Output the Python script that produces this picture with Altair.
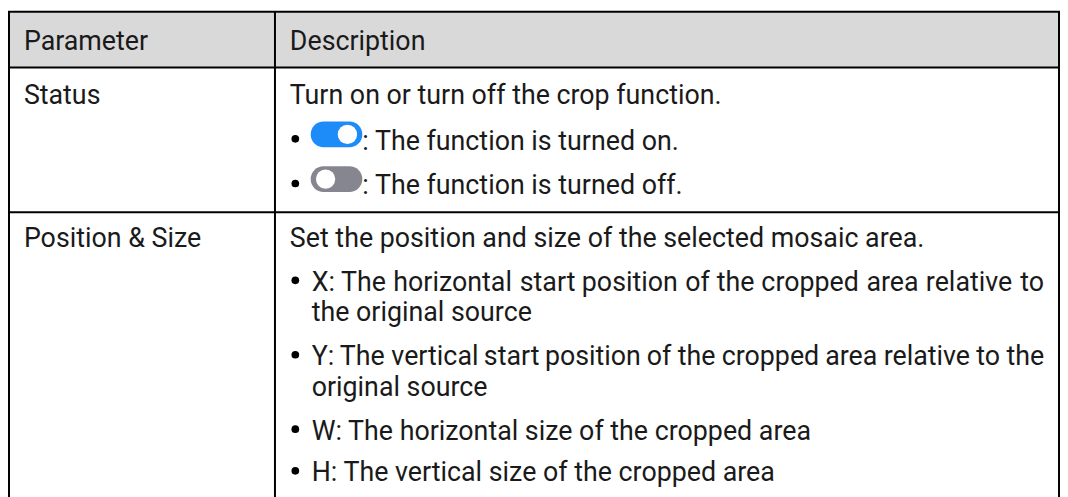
import altair as alt
import pandas as pd

# ---------------- content ----------------
header_cells = ["Parameter", "Description"]
param_names = ["Status", "Position & Size"]
status_lead = "Turn on or turn off the crop function."
status_items = [": The function is turned on.", ": The function is turned off."]
toggle_states = ["on", "off"]
size_lead = "Set the position and size of the selected mosaic area."
size_items = [
    ["X: The horizontal start position of the cropped area relative to", "the original source"],
    ["Y: The vertical start position of the cropped area relative to the", "original source"],
    ["W: The horizontal size of the cropped area"],
    ["H: The vertical size of the cropped area"],
]

# ---------------- layout (page pixels) ----------------
W, H = 1068, 497
M = 8
LEFT, RIGHT, COL = 9, 1067, 277
TOP, HEAD_BOT, ROW1_BOT = 10, 66, 212
X1, X2 = 24, 292
BULLET_X, ITEM_X, TOGGLE_TEXT_X = 297.5, 314, 365
JUSTIFY_END = 1052
PARA_STEPS = [44, 44, 44, 42]
FONT = "Roboto"
FS = 27
TXT = "#1a1a1a"
BLUE, GRAY = "#1e8cf8", "#868690"

# approximate Roboto advance widths (em) used only to spread words of justified lines
EM = {" ": .248, ":": .212, "X": .627, "Y": .599, "T": .611, "h": .551, "e": .529,
      "o": .571, "r": .338, "i": .243, "z": .496, "n": .552, "t": .327, "a": .544,
      "l": .243, "s": .516, "p": .560, "f": .348, "c": .523, "d": .563, "v": .484}


def est(s):
    return sum(EM.get(ch, .55) for ch in s)


texts, rtexts, bullets, pills, knobs = [], [], [], [], []


def add_justified(line, x0, x1, y):
    words = line.split(" ")
    total = est(line)
    pos = 0.0
    for k, w in enumerate(words):
        if k == len(words) - 1:
            rtexts.append(dict(x=x1, y=y, t=w))
        else:
            texts.append(dict(x=x0 + (x1 - x0) * pos / total, y=y, t=w))
        pos += est(w) + EM[" "]


texts.append(dict(x=X1, y=TOP + 38, t=header_cells[0]))
texts.append(dict(x=X2, y=TOP + 38, t=header_cells[1]))

# row 1
b = HEAD_BOT + 37
texts.append(dict(x=X1, y=b, t=param_names[0]))
texts.append(dict(x=X2, y=b, t=status_lead))
for i, (item, st) in enumerate(zip(status_items, toggle_states)):
    b += 46 if i == 0 else 45
    texts.append(dict(x=TOGGLE_TEXT_X, y=b, t=item))
    bullets.append(dict(x=BULLET_X, y=b - 11))
    cy = b - 15.5
    pills.append(dict(x=326, x2=352, y=cy, c=BLUE if st == "on" else GRAY))
    knobs.append(dict(x=350 if st == "on" else 328, y=cy))

# row 2
b = ROW1_BOT + 35
texts.append(dict(x=X1, y=b, t=param_names[1]))
texts.append(dict(x=X2, y=b, t=size_lead))
for item, step in zip(size_items, PARA_STEPS):
    b += step
    bullets.append(dict(x=BULLET_X, y=b - 10.5))
    for j, line in enumerate(item):
        if j:
            b += 31
        if j < len(item) - 1:
            add_justified(line, ITEM_X, JUSTIFY_END, b)
        else:
            texts.append(dict(x=ITEM_X, y=b, t=line))

hlines = pd.DataFrame([
    dict(x=LEFT - 1, x2=RIGHT + 1, y=TOP),
    dict(x=LEFT - 1, x2=RIGHT + 1, y=HEAD_BOT),
    dict(x=LEFT - 1, x2=RIGHT + 1, y=ROW1_BOT),
])
vlines = pd.DataFrame([
    dict(x=LEFT, y=TOP, y2=H + 5),
    dict(x=COL, y=TOP, y2=H + 5),
    dict(x=RIGHT, y=TOP, y2=H + 5),
])

xs = alt.Scale(domain=[M, W], nice=False, zero=False)
ys = alt.Scale(domain=[M, H], nice=False, zero=False, reverse=True)
X = lambda f: alt.X(f, type="quantitative", scale=xs, axis=None)
Y = lambda f: alt.Y(f, type="quantitative", scale=ys, axis=None)

header_bg = alt.Chart(pd.DataFrame([dict(x=LEFT, x2=RIGHT, y=TOP, y2=HEAD_BOT)])).mark_rect(
    color="#d9d9d9").encode(x=X("x"), x2="x2", y=Y("y"), y2="y2")

h_rules = alt.Chart(hlines).mark_rule(color="#000000", strokeWidth=2).encode(
    x=X("x"), x2="x2", y=Y("y"))
v_rules = alt.Chart(vlines).mark_rule(color="#000000", strokeWidth=2).encode(
    x=X("x"), y=Y("y"), y2="y2")

text_layer = alt.Chart(pd.DataFrame(texts)).mark_text(
    align="left", baseline="alphabetic", font=FONT, fontSize=FS, color=TXT
).encode(x=X("x"), y=Y("y"), text="t:N")

rtext_layer = alt.Chart(pd.DataFrame(rtexts)).mark_text(
    align="right", baseline="alphabetic", font=FONT, fontSize=FS, color=TXT
).encode(x=X("x"), y=Y("y"), text="t:N")

bullet_layer = alt.Chart(pd.DataFrame(bullets)).mark_circle(
    size=60, color="#000000", opacity=1).encode(x=X("x"), y=Y("y"))

pill_layer = alt.Chart(pd.DataFrame(pills)).mark_rule(
    strokeWidth=26, strokeCap="round").encode(
    x=X("x"), x2="x2", y=Y("y"), color=alt.Color("c:N", scale=None))

knob_layer = alt.Chart(pd.DataFrame(knobs)).mark_circle(
    size=380, color="#ffffff", opacity=1).encode(x=X("x"), y=Y("y"))

chart = alt.layer(
    header_bg, h_rules, v_rules, text_layer, rtext_layer, bullet_layer, pill_layer, knob_layer
).properties(
    width=W - M, height=H - M, padding=0, autosize="none", background="#ffffff"
).configure_view(stroke=None)

chart.save("out.html", embed_options={"renderer": "svg", "actions": False})
